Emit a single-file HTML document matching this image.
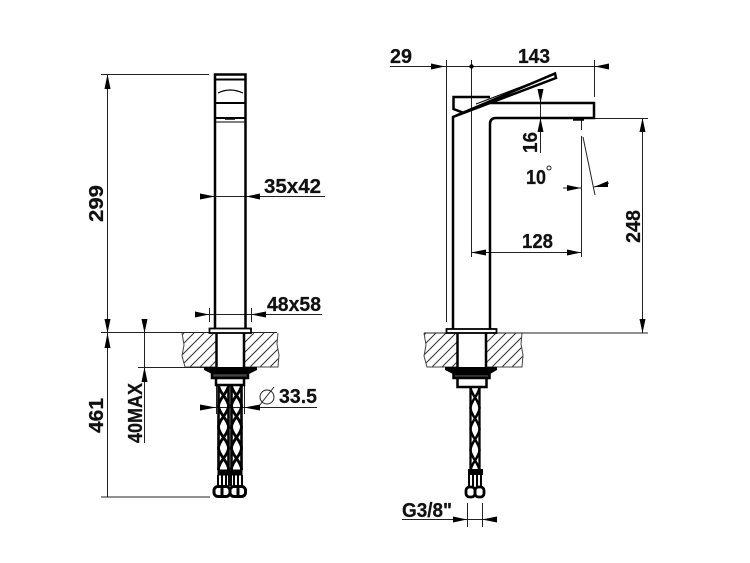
<!DOCTYPE html>
<html><head><meta charset="utf-8">
<style>
html,body{margin:0;padding:0;background:#fff;width:750px;height:563px;overflow:hidden}
svg{display:block}
text{font-family:"Liberation Sans",sans-serif;font-weight:bold;fill:#111;stroke:#111;stroke-width:.25;font-size:20px}
</style></head><body>
<svg width="750" height="563" viewBox="0 0 750 563" xmlns="http://www.w3.org/2000/svg">
<defs>
<clipPath id="cl"><path d="M182 333L184 345L182 356L185 367H216V333Z"/><path d="M244 333V367H278L279 355L277 344L278 333Z"/></clipPath>
<clipPath id="cr"><path d="M424 333L426 345L424 356L427 367H457V333Z"/><path d="M486 333V367H522L523 355L521 344L522 333Z"/></clipPath>
<pattern id="hose" width="13" height="21" patternUnits="userSpaceOnUse" x="217" y="385">
<path d="M1.500 0C1.500 7 11.500 14 11.500 21M11.500 0C11.500 7 1.500 14 1.500 21" fill="none" stroke="#000" stroke-width="2.800"/>
<path d="M1.500 0V21M11.500 0V21" stroke="#000" stroke-width="2.600"/>
</pattern>
<pattern id="hose2" width="12" height="21" patternUnits="userSpaceOnUse" x="469" y="387">
<path d="M1.500 0C1.500 7 10.500 14 10.500 21M10.500 0C10.500 7 1.500 14 1.500 21" fill="none" stroke="#000" stroke-width="2.500"/>
<path d="M1.500 0V21M10.500 0V21" stroke="#000" stroke-width="2.300"/>
</pattern>
</defs>
<rect width="750" height="563" fill="#fff"/>

<!-- hatching -->
<g clip-path="url(#cl)"><path stroke="#333" stroke-width="1" fill="none" d="M150 367l34-34m-24 34l34-34m-24 34l34-34m-24 34l34-34m-24 34l34-34m-24 34l34-34m-24 34l34-34m-24 34l34-34m-24 34l34-34m-24 34l34-34m-24 34l34-34m-24 34l34-34m-24 34l34-34m-24 34l34-34"/></g>
<g clip-path="url(#cr)"><path stroke="#333" stroke-width="1" fill="none" d="M392 367l34-34m-24 34l34-34m-24 34l34-34m-24 34l34-34m-24 34l34-34m-24 34l34-34m-24 34l34-34m-24 34l34-34m-24 34l34-34m-24 34l34-34m-24 34l34-34m-24 34l34-34m-24 34l34-34m-24 34l34-34"/></g>
<g stroke="#444" stroke-width="1" fill="none">
<path d="M182 333L184 345L182 356L185 367H216M244 367H278L279 355L277 344L278 333"/>
<path d="M424 333L426 345L424 356L427 367H457M486 367H522L523 355L521 344L522 333"/>
</g>

<!-- thin dimension lines -->
<g stroke="#222" stroke-width="1" fill="none">
<path d="M101 74.500H209M107.500 74V497M101 332.500H277M101 497H210M144.500 319V443M138 367.500H204"/>
<path d="M200 196.500H260M260 196.500H325M195 314.500H266M266 314.500H322M209.500 308V322M251.500 308V322"/>
<path d="M200 407.500H317M216.500 385V414M244.500 385V414"/>
<circle cx="267" cy="397" r="7"/><path d="M259 406L274 387"/>
<path d="M390 66.500H609M446.500 60V322M471.500 60V257M594.500 60V97"/>
<path d="M594 118.500H648M424 333H648M642.500 118V333M540.500 89V153"/>
<path d="M581.500 120V130M581.500 136V257M583 137L595 195M563 188H581M609 183L594 187"/>
<path d="M471 252.500H581M402 519.500H497M467.500 503V527M482.500 503V527"/>
<circle cx="549" cy="168" r="2"/>
</g>

<!-- arrowheads -->
<g fill="#000">
<path d="M107.500 74L104.500 89H110.500Z"/>
<path d="M107.500 333L104.500 319H110.500Z"/><path d="M107.500 333L104.500 348H110.500Z"/>
<path d="M144.500 333L141.500 319H147.500Z"/><path d="M144.500 367L141.500 382H147.500Z"/>
<path d="M215 196.500L200 193.500V199.500Z"/><path d="M246 196.500L260 193.500V199.500Z"/>
<path d="M209 314.500L195 311.500V317.500Z"/><path d="M251 314.500L266 311.500V317.500Z"/>
<path d="M216 407.500L200 404.500V410.500Z"/><path d="M244 407.500L260 404.500V410.500Z"/>
<circle cx="471.500" cy="66.500" r="2.200"/>
<path d="M445 66.500L431 63.500V69.500Z"/><path d="M595 66.500L609 63.500V69.500Z"/>
<path d="M540.500 103L537.500 89H543.500Z"/><path d="M540.500 118L537.500 132H543.500Z"/>
<path d="M642.500 118L639.500 132H645.500Z"/><path d="M642.500 333L639.500 319H645.500Z"/>
<path d="M581 188L567 185V191Z"/><path d="M594 187L608 181V187Z"/>
<path d="M471 252.500L486 249.500V255.500Z"/><path d="M581 252.500L567 249.500V255.500Z"/>
<path d="M467 519.500L453 516.500V522.500Z"/><path d="M482 519.500L497 516.500V522.500Z"/>
</g>

<!-- LEFT view body -->
<g stroke="#000" stroke-width="2.500" fill="none">
<path d="M215 328V74.500H245.500V328"/>
<path d="M215 79.500H245.500" stroke-width="2"/>
<path d="M215 103H245.500M215 118H245.500" stroke-width="2"/>
<path d="M218 93Q230 87 243 93" stroke-width="1.200"/>
<path d="M215 122H245.500" stroke-width="1"/>
<path d="M225 118.500H235" stroke-width="2.500"/>
<rect x="209.500" y="328.500" width="41.500" height="4.500" fill="#fff" stroke-width="1.800"/>
<path d="M216.500 333V367M244 333V367"/>
</g>
<path d="M204 367H257V370L249 374H212L204 370Z" fill="#000"/>
<g stroke="#000" fill="#fff" stroke-width="2.500">
<rect x="212" y="373" width="36" height="5" fill="#444"/>
<rect x="216" y="378" width="28" height="7"/>
</g>
<rect x="217" y="385" width="13" height="85" fill="url(#hose)"/>
<rect x="230" y="385" width="13" height="85" fill="url(#hose)"/>
<g stroke="#000" stroke-width="2.500" fill="none">
<rect x="218" y="470" width="24" height="5" fill="#000" stroke-width="1"/>
<path d="M218 475V486M222 475V486M226 475V486M229 475V486M231 475V486M234 475V486M238 475V486M242 475V486" stroke-width="2"/>
<rect x="214" y="486.500" width="16" height="10" rx="4" stroke-width="3"/>
<rect x="230" y="486.500" width="15.500" height="10" rx="4" stroke-width="3"/>
<path d="M222 488V495M238 488V495" stroke-width="3"/>
</g>

<!-- RIGHT view body -->
<g stroke="#000" stroke-width="2.500" fill="none">
<path d="M453 329V117L555 73.500L556 78L453 117"/>
<path d="M490 97H453.500V109L464 113"/>
<path d="M490 103H594V118H496Q490 118 490 124V329" />
<path d="M476 104L552 75" stroke-width="1"/>
<path d="M573 119.500H584" stroke-width="2.500"/>
<rect x="446.500" y="329" width="50" height="4" fill="#fff" stroke-width="1.800"/>
<path d="M457.500 333V367M486 333V367"/>
</g>
<path d="M445 367H497V370L490 374H453L445 370Z" fill="#000"/>
<g stroke="#000" fill="#fff" stroke-width="2.500">
<rect x="453.500" y="374" width="36" height="4" fill="#444"/>
<rect x="457.500" y="378" width="29" height="9"/>
</g>
<rect x="469" y="387" width="12" height="84" fill="url(#hose2)"/>
<g stroke="#000" stroke-width="2" fill="none">
<rect x="469" y="470" width="13" height="4" fill="#000"/>
<path d="M469 474V486M473 474V486M477 474V486M481 474V486"/>
<rect x="466" y="487" width="9" height="10" rx="3.500" stroke-width="2.800"/>
<rect x="475" y="487" width="9" height="10" rx="3.500" stroke-width="2.800"/>
</g>

<!-- labels -->
<text x="264" y="193" textLength="57" lengthAdjust="spacingAndGlyphs">35x42</text>
<text x="267" y="311" textLength="54" lengthAdjust="spacingAndGlyphs">48x58</text>
<text x="279" y="403" textLength="38" lengthAdjust="spacingAndGlyphs">33.5</text>
<text x="390" y="63" textLength="22" lengthAdjust="spacingAndGlyphs">29</text>
<text x="518" y="63" textLength="32" lengthAdjust="spacingAndGlyphs">143</text>
<text x="526" y="184" textLength="20" lengthAdjust="spacingAndGlyphs">10</text>
<text x="522" y="248" textLength="31" lengthAdjust="spacingAndGlyphs">128</text>
<text x="402" y="517" textLength="50" lengthAdjust="spacingAndGlyphs">G3/8"</text>
<text transform="translate(103,222) rotate(-90)" textLength="37" lengthAdjust="spacingAndGlyphs">299</text>
<text transform="translate(103,433) rotate(-90)" textLength="35" lengthAdjust="spacingAndGlyphs">461</text>
<text transform="translate(142,443) rotate(-90)" textLength="60" lengthAdjust="spacingAndGlyphs">40MAX</text>
<text transform="translate(537,153) rotate(-90)" textLength="21" lengthAdjust="spacingAndGlyphs">16</text>
<text transform="translate(640,243) rotate(-90)" textLength="33" lengthAdjust="spacingAndGlyphs">248</text>
</svg>
</body></html>
